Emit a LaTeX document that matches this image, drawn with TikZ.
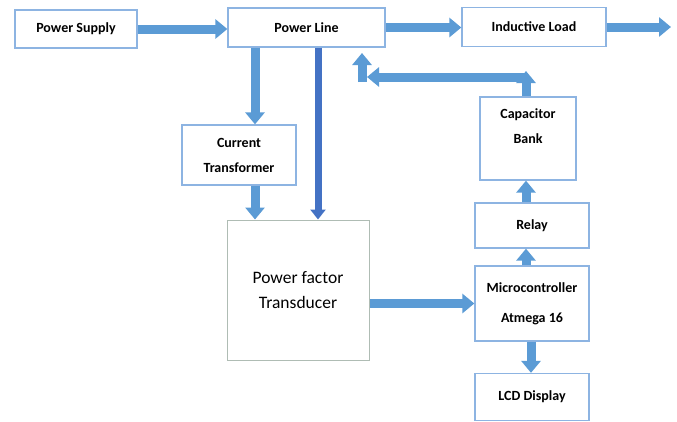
\documentclass[tikz,border=0pt]{standalone}
\usepackage{fontspec}
\setmainfont{Carlito}
\usepackage{xcolor}
\definecolor{boxcolour}{RGB}{141,180,226}
\definecolor{arrowcolour}{RGB}{91,155,213}
\definecolor{tapcolour}{RGB}{68,114,196}
\definecolor{transducercolour}{RGB}{175,188,180}
\usetikzlibrary{arrows.meta, positioning}
\tikzstyle{block} = [rectangle, draw=boxcolour, line width=1.3pt, fill=white, text centered, align=center, inner sep=2pt, font=\fontsize{14}{25}\selectfont\bfseries]
\tikzstyle{transducer} = [rectangle, draw=transducercolour, line width=1pt, fill=white, text centered, align=center, font=\fontsize{17.5}{25}\selectfont]
\tikzstyle{arrow} = [draw=arrowcolour, line width=9pt, -{Triangle[width=19pt,length=12pt]}]
\tikzstyle{tap} = [draw=tapcolour, line width=7pt, -{Triangle[width=15pt,length=10pt]}]

\begin{document}
\begin{tikzpicture}[x=1pt, y=-1pt]
	\useasboundingbox (0,0) rectangle (677,421);
	\node (supply) [block, minimum width=122pt, minimum height=38pt] at (76,29) {Power Supply};
	\node (line) [block, minimum width=157pt, minimum height=39pt] at (306.5,27.5) {Power Line};
	\node (load) [block, minimum width=144pt, minimum height=39pt] at (534,27) {Inductive Load};
	\node (ct) [block, minimum width=114pt, minimum height=60pt] at (239,155) {Current\\Transformer};
	\node (pft) [transducer, minimum width=142pt, minimum height=140pt] at (298,290) {Power factor\\Transducer};
	\node (cap) [block, minimum width=96pt, minimum height=83pt] at (528,138.5) {Capacitor\\Bank\\\phantom{B}};
	\node (relay) [block, minimum width=114pt, minimum height=45pt] at (532,225.5) {Relay};
	\node (mc) [block, minimum width=114pt, minimum height=75pt] at (532,303.5) {Microcontroller\\[5pt]Atmega 16};
	\node (lcd) [block, minimum width=114pt, minimum height=47pt] at (532,397) {LCD Display};
	\coordinate (out) at (671,27);
	\coordinate (ctline) at (255,0);
	\coordinate (tapline) at (318,0);
	\coordinate (capline) at (526,0);
	\coordinate (lcdline) at (531,0);
	\coordinate (feedtop) at (526,71);
	\coordinate (feedback) at (526,77);
	\coordinate (feedend) at (367,77);
	\coordinate (feedup) at (362,82);
	\coordinate (feedtip) at (362,53);
	\draw [arrow] (supply.east) -- (line.west |- supply.east);
	\draw [arrow] (line.east) -- (load.west |- line.east);
	\draw [arrow] (load.east) -- (out);
	\draw [arrow] (line.south -| ctline) -- (ct.north -| ctline);
	\draw [arrow] (ct.south -| ctline) -- (pft.north -| ctline);
	\draw [tap] (line.south -| tapline) -- (pft.north -| tapline);
	\draw [arrow] (pft.east |- mc.west) -- (mc.west);
	\draw [arrow] (mc.north -| capline) -- (relay.south -| capline);
	\draw [arrow] (relay.north -| capline) -- (cap.south -| capline);
	\draw [arrow] (feedback) -- (feedend);
	\draw [arrow] (cap.north -| capline) -- (feedtop);
	\draw [arrow] (feedup) -- (feedtip);
	\draw [arrow] (mc.south -| lcdline) -- (lcd.north -| lcdline);
\end{tikzpicture}
\end{document}
